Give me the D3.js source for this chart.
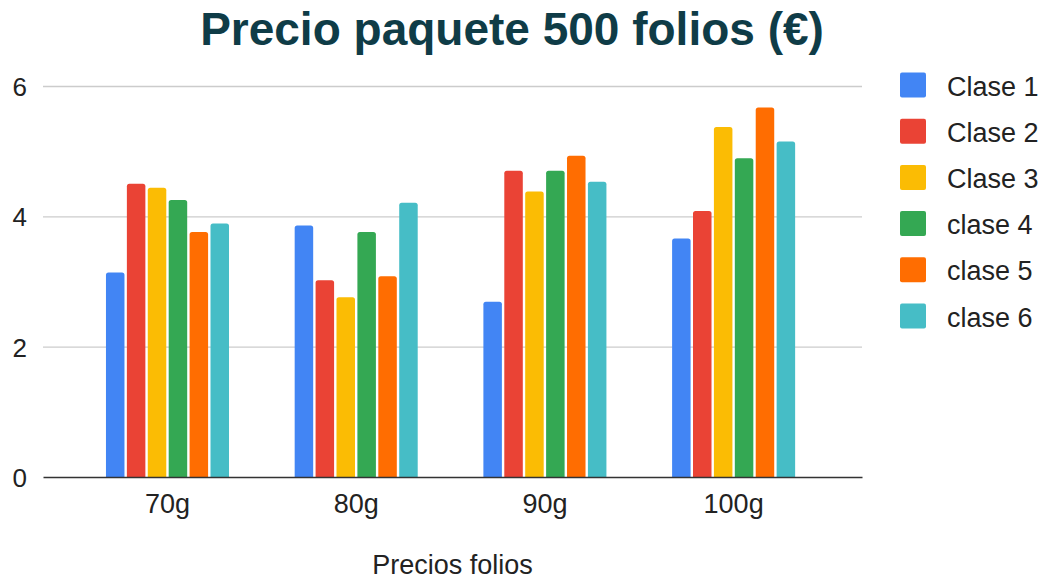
<!DOCTYPE html>
<html>
<head>
<meta charset="utf-8">
<script src="https://cdn.jsdelivr.net/npm/d3@7"></script>
<style>
  body { margin: 0; background: #fff; }
  svg { font-family: "Liberation Sans", Arial, sans-serif; }
</style>
</head>
<body>
<div class="graph"></div>
<script>
// datos
const grupos = ["70g", "80g", "90g", "100g"];
const clases = ["Clase 1", "Clase 2", "Clase 3", "clase 4", "clase 5", "clase 6"];
const clase1 = [3.14, 3.86, 2.69, 3.66];
const clase2 = [4.50, 3.02, 4.70, 4.08];
const clase3 = [4.44, 2.76, 4.38, 5.37];
const clase4 = [4.25, 3.76, 4.70, 4.89];
const clase5 = [3.76, 3.08, 4.93, 5.67];
const clase6 = [3.89, 4.21, 4.53, 5.15];
const yTicks = [0, 2, 4, 6];
const colores = ["#4285F4", "#EA4335", "#FBBC04", "#34A853", "#FF6D01", "#46BDC6"];

const series = [clase1, clase2, clase3, clase4, clase5, clase6];
const data = grupos.map((g, i) => ({ grupo: g, valores: series.map((s, j) => ({ clase: clases[j], v: s[i] })) }));

const W = 1044, H = 579;
const mLeft = 43, mRight = 862, mTop = 86, mBottom = 477;

const svg = d3.select(".graph").append("svg").attr("width", W).attr("height", H);

const x0 = d3.scaleBand().domain(grupos).range([mLeft, mRight])
  .paddingInner(0.348).paddingOuter(0.344).align(0.485);
const x1 = d3.scaleBand().domain(clases).range([0, x0.bandwidth()]).paddingInner(0.115);
const y = d3.scaleLinear().domain([0, 6]).range([mBottom, mTop]);
const color = d3.scaleOrdinal().domain(clases).range(colores);

// titulo
svg.append("text")
  .attr("x", 512).attr("y", 45)
  .attr("text-anchor", "middle")
  .style("font-size", "46px").style("font-weight", "bold")
  .attr("fill", "#0f3c47")
  .text("Precio paquete 500 folios (€)");

// rejilla
const yAxis = d3.axisLeft(y).tickValues(yTicks).tickSize(-(mRight - mLeft)).tickFormat(d3.format("d"));
const gy = svg.append("g").attr("transform", "translate(" + mLeft + ",0)").call(yAxis);
gy.select(".domain").remove();
gy.selectAll(".tick line").attr("stroke", "#cccccc").attr("stroke-width", 1.3);
gy.selectAll(".tick text").attr("x", -16).attr("dy", "0.36em")
  .style("font-size", "26px").attr("fill", "#222");
gy.selectAll(".tick").filter(d => d === 0).select("line").remove();

// barras con esquinas superiores redondeadas
const r = 2.5;
const barPath = (bx, by, bw, bh) => {
  const rr = Math.min(r, bh);
  return "M" + bx + "," + (by + bh) + "V" + (by + rr) + "Q" + bx + "," + by + " " + (bx + rr) + "," + by +
    "H" + (bx + bw - rr) + "Q" + (bx + bw) + "," + by + " " + (bx + bw) + "," + (by + rr) + "V" + (by + bh) + "Z";
};

svg.append("g").selectAll("g")
  .data(data).join("g")
  .attr("transform", d => "translate(" + x0(d.grupo) + ",0)")
  .selectAll("path")
  .data(d => d.valores).join("path")
  .attr("d", d => barPath(x1(d.clase), y(d.v), x1.bandwidth(), y(0) - y(d.v)))
  .attr("fill", d => color(d.clase));

// eje x
const gx = svg.append("g").attr("transform", "translate(0," + mBottom + ")")
  .call(d3.axisBottom(x0).tickSize(0).tickPadding(17));
gx.select(".domain").attr("stroke", "#333").attr("stroke-width", 1.6);
gx.selectAll(".tick text").style("font-size", "27px").attr("fill", "#222");

svg.append("text")
  .attr("x", (mLeft + mRight) / 2).attr("y", 574)
  .attr("text-anchor", "middle")
  .style("font-size", "27px").attr("fill", "#222")
  .text("Precios folios");

// leyenda
const leyenda = svg.append("g").selectAll("g")
  .data(clases).join("g")
  .attr("transform", (d, i) => "translate(900," + (85 + i * 46.2) + ")");
leyenda.append("rect")
  .attr("x", 0).attr("y", -12.5).attr("width", 26).attr("height", 25).attr("rx", 2)
  .attr("fill", d => color(d));
leyenda.append("text")
  .attr("x", 47).attr("y", 10.5)
  .style("font-size", "27px").attr("fill", "#222")
  .text(d => d);
</script>
</body>
</html>
